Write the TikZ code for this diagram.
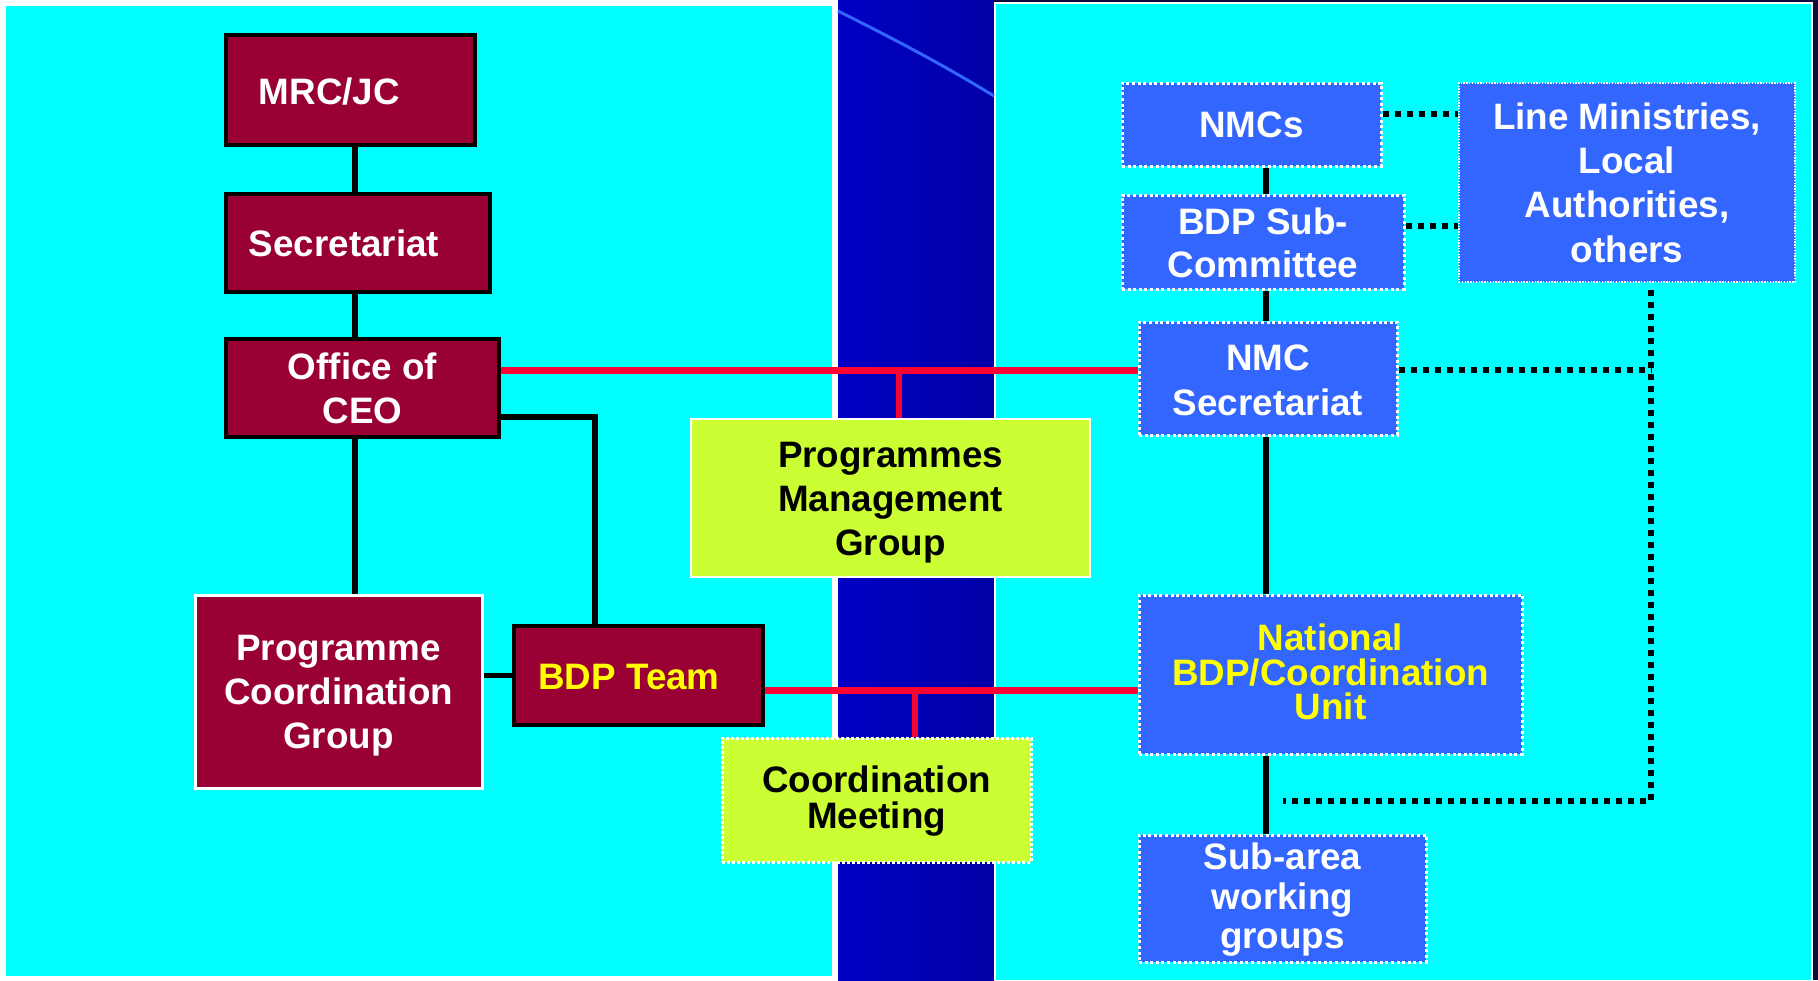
\documentclass[tikz,border=0pt]{standalone}
\usepackage{fontspec}
\setmainfont{Liberation Sans}
\definecolor{panelcyan}{HTML}{00FFFF}
\definecolor{bandL}{HTML}{0000C4}
\definecolor{bandR}{HTML}{0000A6}
\definecolor{navy}{HTML}{0C0C3C}
\definecolor{mrcred}{HTML}{990033}
\definecolor{nodeblue}{HTML}{3366FF}
\definecolor{limebox}{HTML}{CCFF33}
\definecolor{linered}{HTML}{FF0033}
\definecolor{txtyellow}{HTML}{FFFF00}
\pgfdeclarelayer{bg}
\pgfdeclarelayer{lines}
\pgfsetlayers{bg,lines,main}
\begin{document}
\begin{tikzpicture}[x=0.5pt,y=-0.5pt,
  every node/.style={font=\bfseries\fontsize{18.4}{22}\selectfont, inner sep=0pt, align=center},
  tb/.style={text height=#1, text depth=0pt},
  bs/.style={font=\bfseries\fontsize{18.4}{#1}\selectfont},
  redbox/.style={fill=mrcred, draw=black, line width=2pt, text=white},
  bluebox/.style={fill=nodeblue, draw=white, line width=1.5pt, dash pattern=on 1.5pt off 1.3pt, text=white},
  limenode/.style={fill=limebox, draw=white, text=black},
  conn/.style={line width=2.6pt, draw=black},
  redconn/.style={line width=3.5pt, draw=linered},
  reddrop/.style={line width=2.7pt, draw=linered},
  dotconn/.style={line width=2.75pt, draw=black, dash pattern=on 3pt off 3pt},
]
\useasboundingbox (0,0) rectangle (1818,980);
\begin{pgfonlayer}{bg}
  \fill[white] (0,0) rectangle (1818,980);
  \fill[panelcyan] (6,6) rectangle (832,976);
  \shade[left color=bandL, right color=bandR] (838,0) rectangle (994,980);
  \fill[navy] (994,0) rectangle (1818,980);
  \fill[white] (994,2) rectangle (1813,980);
  \fill[panelcyan] (996,4) rectangle (1811,980);
  \draw[nodeblue, line width=1.5pt] (838,11) .. controls (890,37) and (942,64) .. (994,96);
\end{pgfonlayer}

% left nodes
\node[redbox, tb=14pt, minimum width=124.5pt, minimum height=55pt] (mrc) at (350.5,90) {MRC/JC\kern21pt};
\node[redbox, tb=13.2pt, minimum width=132pt, minimum height=49pt] (sec) at (358,243) {Secretariat\kern14pt};
\node[redbox, tb=35.5pt, minimum width=136.5pt, minimum height=49pt] (ceo) at (362.5,388) {Office of\\CEO};
\node[redbox, tb=57pt, draw=white, line width=1.5pt, minimum width=143.5pt, minimum height=96.5pt] (pcg) at (338.5,691.5) {Programme\\Coordination\\Group};
\node[redbox, tb=13.5pt, text=txtyellow, minimum width=124.5pt, minimum height=49.5pt] (bdp) at (638.5,675.5) {BDP Team\kern9.5pt};

% middle nodes
\node[limenode, tb=57.2pt, line width=1pt, minimum width=199.5pt, minimum height=79pt] (pmg) at (890.5,498) {Programmes\\Management\\Group};
\node[limenode, tb=28.5pt, bs=17.9, line width=1.5pt, dash pattern=on 1.5pt off 1pt, minimum width=154.5pt, minimum height=62pt] (cm) at (876.5,800) {Coordination\\Meeting};

% right nodes
\node[bluebox, tb=13.4pt, minimum width=129.5pt, minimum height=41.5pt] (nmcs) at (1251.5,124.5) {NMCs};
\node[bluebox, tb=35.9pt, bs=21.5, minimum width=141pt, minimum height=47pt] (bsc) at (1263,242) {BDP Sub-\\Committee};
\node[bluebox, tb=79.8pt, bs=22.2, line width=0.7pt, dash pattern=on 0.7pt off 0.7pt, minimum width=168pt, minimum height=99.5pt] (lm) at (1627,182.5) {Line Ministries,\\Local\\Authorities,\\others};
\node[bluebox, tb=37.3pt, bs=22.5, minimum width=129pt, minimum height=56.5pt] (nsec) at (1268,378.5) {NMC\\Secretariat};
\node[bluebox, tb=45.4pt, bs=17.4, text=txtyellow, minimum width=191.5pt, minimum height=79.5pt] (nat) at (1330.5,674.5) {National\\BDP/Coordination\\Unit};
\node[bluebox, tb=50pt, bs=19.7, minimum width=143.5pt, minimum height=63.5pt] (sub) at (1282.5,898.5) {Sub-area\\working\\groups};

% helper coordinates
\coordinate (xl) at (355,0);
\coordinate (xr) at (1266,0);
\coordinate (xt) at (595,0);
\coordinate (yt) at (0,417);
\coordinate (yr1) at (0,370);
\coordinate (yr2) at (0,690);
\coordinate (xp) at (899,0);
\coordinate (xc) at (915,0);
\coordinate (yd1) at (0,114);
\coordinate (yd2) at (0,226);
\coordinate (dj) at (1651,370);
\coordinate (dt) at (1651,290);
\coordinate (dc) at (1651,801);
\coordinate (de) at (1283,801);

\begin{pgfonlayer}{lines}
  % left solid connectors
  \draw[conn] (mrc.south -| xl) -- (sec.north -| xl);
  \draw[conn] (sec.south -| xl) -- (ceo.north -| xl);
  \draw[conn] (ceo.south -| xl) -- (pcg.north -| xl);
  \draw[conn] (ceo.east |- yt) -| (bdp.north -| xt);
  \draw[conn] (pcg.east |- bdp.west) -- (bdp.west);
  % red connectors
  \draw[redconn] (ceo.east |- yr1) -- (nsec.west |- yr1);
  \draw[reddrop] (xp |- yr1) -- (pmg.north -| xp);
  \draw[redconn] (bdp.east |- yr2) -- (nat.west |- yr2);
  \draw[reddrop] (xc |- yr2) -- (cm.north -| xc);
  % right solid connectors
  \draw[conn] (nmcs.south -| xr) -- (bsc.north -| xr);
  \draw[conn] (bsc.south -| xr) -- (nsec.north -| xr);
  \draw[conn] (nsec.south -| xr) -- (nat.north -| xr);
  \draw[conn] (nat.south -| xr) -- (sub.north -| xr);
  % dotted connectors
  \draw[dotconn] (nmcs.east |- yd1) -- (lm.west |- yd1);
  \draw[dotconn] (bsc.east |- yd2) -- (lm.west |- yd2);
  \draw[dotconn] (nsec.east |- dj) -- (dj);
  \draw[dotconn] (dt) -- (dc) -- (de);
\end{pgfonlayer}
\end{tikzpicture}
\end{document}
